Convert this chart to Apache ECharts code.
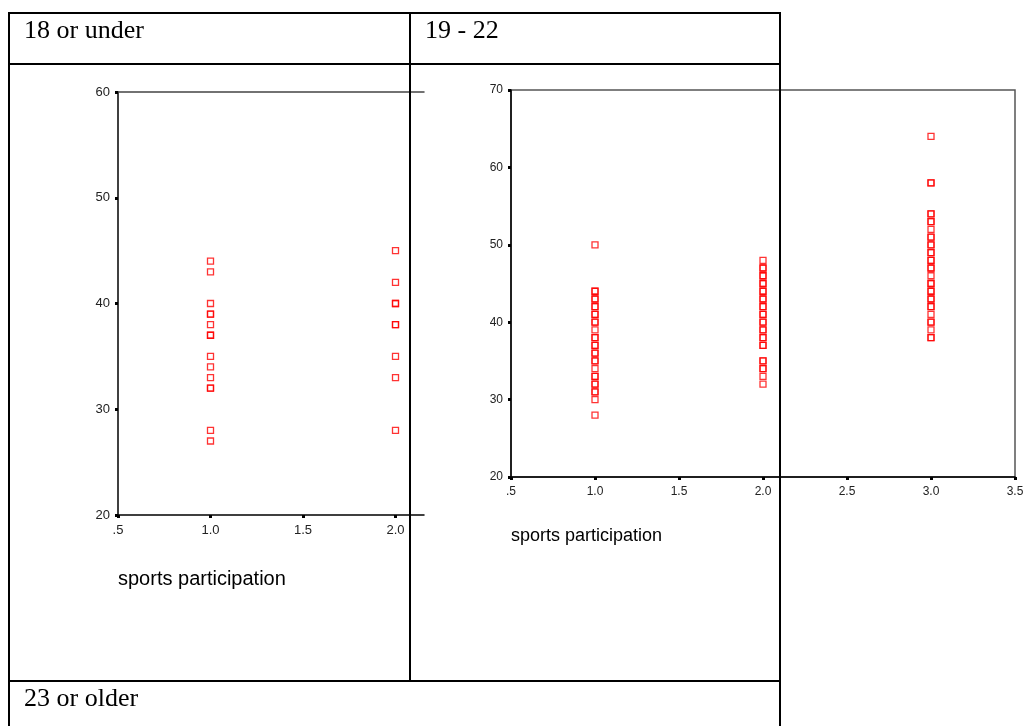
<!DOCTYPE html>
<html>
<head>
<meta charset="utf-8">
<script src="https://cdn.jsdelivr.net/npm/echarts@6/dist/echarts.min.js"></script>
<style>
html, body { margin: 0; padding: 0; background: #fff; }
#main { width: 1023px; height: 726px; }
</style>
</head>
<body>
<div id="main"></div>
<script>
// panel labels and axis title
var panelNames = ['18 or under', '19 - 22', '23 or older'];
var axisTitle = 'sports participation';

// tick values
var xTicks = [0.5, 1.0, 1.5, 2.0, 2.5, 3.0, 3.5];
var yTicksA = [20, 30, 40, 50, 60];
var yTicksB = [20, 30, 40, 50, 60, 70];

// 18 or under: scores by sports participation (1, 2)
var under18Sport1 = [44, 43, 40, 39, 39, 38, 37, 37, 35, 34, 33, 32, 32, 28, 27];
var under18Sport2 = [45, 42, 40, 40, 38, 38, 35, 33, 28];

// 19 - 22: scores by sports participation (1, 2, 3)
var age19Sport1 = [50, 44, 44, 43, 43, 42, 42, 41, 41, 40, 40, 39, 38, 38, 37, 37, 36, 36, 35, 35, 34, 33, 33, 32, 32, 31, 31, 30, 28];
var age19Sport2 = [48, 47, 47, 46, 46, 45, 45, 44, 44, 43, 43, 42, 42, 41, 41, 40, 40, 39, 39, 38, 38, 37, 37, 35, 35, 34, 34, 33, 32];
var age19Sport3 = [64, 58, 58, 54, 54, 53, 53, 52, 51, 51, 50, 50, 49, 49, 48, 48, 47, 47, 46, 45, 45, 44, 44, 43, 43, 42, 42, 41, 40, 40, 39, 38, 38];

function toPoints(x, ys) {
  return ys.map(function (y) { return [x, y]; });
}

var chart = echarts.init(document.getElementById('main'));

var tickFmt = function (v) {
  return v === 0.5 ? '.5' : v.toFixed(1);
};
var labelStyle = function (size) {
  return { color: '#222', fontSize: size, fontFamily: 'Liberation Sans, Arial, sans-serif', margin: 8 };
};
var tickStyle = { show: true, length: 3, lineStyle: { color: '#000', width: 3 } };
var lineStyleAxis = { color: '#000', width: 1.5 };

var markStyle = {
  color: 'rgba(255,255,255,0)',
  borderColor: '#ff0000',
  borderWidth: 1.3
};

// first panel is cut off by the second picture at x = 424
var clipMaxA = 0.5 + (424 - 118) / 185;

var option = {
  animation: false,
  grid: [
    { left: 118, top: 92, width: 306, height: 423, show: false, outerBoundsMode: 'none' },
    { left: 511, top: 90, width: 504, height: 387, show: true, borderColor: '#555', borderWidth: 1.5, backgroundColor: 'rgba(0,0,0,0)', outerBoundsMode: 'none' }
  ],
  xAxis: [
    {
      gridIndex: 0, type: 'value', min: 0.5, max: clipMaxA,
      axisLine: { show: true, onZero: false, lineStyle: lineStyleAxis },
      axisTick: Object.assign({ customValues: xTicks.slice(0, 4) }, tickStyle),
      axisLabel: Object.assign({ customValues: xTicks.slice(0, 4), formatter: tickFmt }, labelStyle(13), { margin: 9 }),
      splitLine: { show: false }
    },
    {
      gridIndex: 0, type: 'value', min: 0.5, max: clipMaxA, position: 'top',
      axisLine: { show: true, onZero: false, lineStyle: { color: '#444', width: 1.5 } },
      axisTick: { show: false }, axisLabel: { show: false }, splitLine: { show: false }
    },
    {
      gridIndex: 1, type: 'value', min: 0.5, max: 3.5, interval: 0.5,
      axisLine: { show: true, onZero: false, lineStyle: lineStyleAxis },
      axisTick: tickStyle,
      axisLabel: Object.assign({ formatter: tickFmt, hideOverlap: false }, labelStyle(12), { margin: 9 }),
      splitLine: { show: false }
    }
  ],
  yAxis: [
    {
      gridIndex: 0, type: 'value', min: 20, max: 60, interval: 10,
      axisLine: { show: true, onZero: false, lineStyle: lineStyleAxis },
      axisTick: tickStyle,
      axisLabel: labelStyle(13),
      splitLine: { show: false }
    },
    {
      gridIndex: 1, type: 'value', min: 20, max: 70, interval: 10,
      axisLine: { show: true, onZero: false, lineStyle: lineStyleAxis },
      axisTick: tickStyle,
      axisLabel: labelStyle(12),
      splitLine: { show: false }
    }
  ],
  series: [
    {
      type: 'scatter', xAxisIndex: 0, yAxisIndex: 0, symbol: 'rect', symbolSize: 6,
      itemStyle: markStyle,
      data: toPoints(1, under18Sport1).concat(toPoints(2, under18Sport2))
    },
    {
      type: 'scatter', xAxisIndex: 2, yAxisIndex: 1, symbol: 'rect', symbolSize: 6,
      itemStyle: markStyle,
      data: toPoints(1, age19Sport1).concat(toPoints(2, age19Sport2), toPoints(3, age19Sport3))
    }
  ],
  graphic: {
    elements: [
      { type: 'text', left: 118, top: 569, style: { text: axisTitle, fill: '#000', font: '20px Liberation Sans, Arial, sans-serif' } },
      { type: 'text', left: 511, top: 527, style: { text: axisTitle, fill: '#000', font: '18px Liberation Sans, Arial, sans-serif' } },
      { type: 'text', left: 24, top: 18, style: { text: panelNames[0], fill: '#000', font: '26px Liberation Serif, Times New Roman, serif' } },
      { type: 'text', left: 425, top: 18, style: { text: panelNames[1], fill: '#000', font: '26px Liberation Serif, Times New Roman, serif' } },
      { type: 'text', left: 24, top: 686, style: { text: panelNames[2], fill: '#000', font: '26px Liberation Serif, Times New Roman, serif' } },
      // table rules
      { type: 'line', z: 100, shape: { x1: 8, y1: 13, x2: 781, y2: 13 }, style: { stroke: '#000', lineWidth: 2 } },
      { type: 'line', z: 100, shape: { x1: 8, y1: 64, x2: 781, y2: 64 }, style: { stroke: '#000', lineWidth: 2 } },
      { type: 'line', z: 100, shape: { x1: 8, y1: 681, x2: 781, y2: 681 }, style: { stroke: '#000', lineWidth: 2 } },
      { type: 'line', z: 100, shape: { x1: 9, y1: 12, x2: 9, y2: 726 }, style: { stroke: '#000', lineWidth: 2 } },
      { type: 'line', z: 100, shape: { x1: 410, y1: 12, x2: 410, y2: 681 }, style: { stroke: '#000', lineWidth: 2 } },
      { type: 'line', z: 100, shape: { x1: 780, y1: 12, x2: 780, y2: 726 }, style: { stroke: '#000', lineWidth: 2 } }
    ]
  }
};

chart.setOption(option);
</script>
</body>
</html>
